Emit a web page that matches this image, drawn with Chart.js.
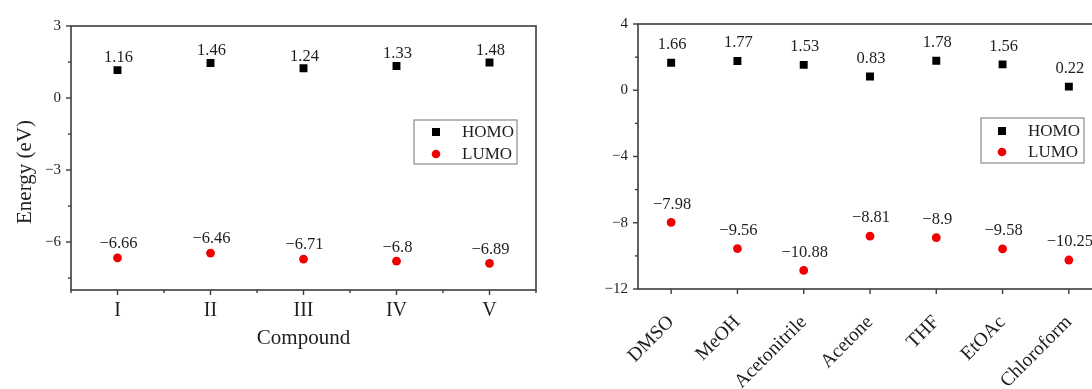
<!DOCTYPE html>
<html>
<head>
<meta charset="utf-8">
<script src="https://cdn.jsdelivr.net/npm/chart.js@4.4.1/dist/chart.umd.min.js"></script>
<style>
  html, body { margin: 0; padding: 0; background: #ffffff; }
  #wrap { position: relative; width: 1092px; height: 389px; overflow: hidden; background: #ffffff; }
  canvas { position: absolute; top: 0; }
  #c1 { left: 0px; }
  #c2 { left: 560px; }
</style>
</head>
<body>
<div id="wrap">
  <canvas id="c1" width="560" height="389"></canvas>
  <canvas id="c2" width="560" height="389"></canvas>
</div>
<script>
// ---------- DATA ----------
const leftCategories = ['I', 'II', 'III', 'IV', 'V'];
const leftHomo = [1.16, 1.46, 1.24, 1.33, 1.48];
const leftLumo = [-6.66, -6.46, -6.71, -6.8, -6.89];
const leftYTicks = [-6, -3, 0, 3];
const leftYMinor = [-7.5, -4.5, -1.5, 1.5];

const rightCategories = ['DMSO', 'MeOH', 'Acetonitrile', 'Acetone', 'THF', 'EtOAc', 'Chloroform'];
const rightHomo = [1.66, 1.77, 1.53, 0.83, 1.78, 1.56, 0.22];
const rightLumo = [-7.98, -9.56, -10.88, -8.81, -8.9, -9.58, -10.25];
const rightYTicks = [-12, -8, -4, 0, 4];
const rightYMinor = [-10, -6, -2, 2];

const seriesNames = ['HOMO', 'LUMO'];
const yTitle = 'Energy (eV)';
const xTitle = 'Compound';

// ---------- STYLE ----------
const FONT = "'Liberation Serif', 'Times New Roman', serif";
const TXT = '#1e1e1e';
const AXIS = '#3c3c3c';
Chart.defaults.font.family = FONT;
Chart.defaults.color = TXT;

const fmt = v => String(v).replace('-', '\u2212');

const framePlugin = {
  id: 'frame',
  afterDraw(chart, args, o) {
    const { ctx, chartArea: a, scales: { x, y } } = chart;
    ctx.save();
    ctx.strokeStyle = AXIS;
    ctx.lineWidth = 1.6;
    ctx.strokeRect(a.left, a.top, a.right - a.left, a.bottom - a.top);
    ctx.lineWidth = 1.4;
    const seg = (x1, y1, x2, y2) => { ctx.beginPath(); ctx.moveTo(x1, y1); ctx.lineTo(x2, y2); ctx.stroke(); };
    o.yMajor.forEach(v => { const p = y.getPixelForValue(v); seg(a.left - 5, p, a.left, p); });
    o.yMinor.forEach(v => { const p = y.getPixelForValue(v); seg(a.left - 3, p, a.left, p); });
    x.ticks.forEach((t, i) => { const p = x.getPixelForTick(i); seg(p, a.bottom, p, a.bottom + 5); });
    if (o.xMinor) {
      for (let i = 0; i <= x.ticks.length; i++) {
        const p = x.getPixelForValue(i - 0.5);
        seg(p, a.bottom, p, a.bottom + 3);
      }
    }
    if (o.yTitle) {
      ctx.fillStyle = TXT;
      ctx.font = o.yTitle.size + 'px ' + FONT;
      ctx.textAlign = 'center';
      ctx.textBaseline = 'middle';
      ctx.translate(o.yTitle.x, o.yTitle.y);
      ctx.rotate(-Math.PI / 2);
      ctx.fillText(o.yTitle.text, 0, 0);
    }
    ctx.restore();
  }
};

const labelPlugin = {
  id: 'vlabels',
  afterDatasetsDraw(chart, args, o) {
    const { ctx } = chart;
    ctx.save();
    ctx.fillStyle = TXT;
    ctx.font = o.size + 'px ' + FONT;
    ctx.textAlign = 'center';
    ctx.textBaseline = 'middle';
    chart.data.datasets.forEach((ds, di) => {
      const meta = chart.getDatasetMeta(di);
      meta.data.forEach((el, i) => {
        ctx.fillText(fmt(ds.data[i]), el.x + 1, el.y - o.offset[di]);
      });
    });
    ctx.restore();
  }
};

const boxLegendPlugin = {
  id: 'boxLegend',
  afterDraw(chart, args, o) {
    const { ctx } = chart;
    ctx.save();
    ctx.strokeStyle = '#8a8a8a';
    ctx.lineWidth = 1.2;
    ctx.strokeRect(o.x, o.y, o.w, o.h);
    ctx.font = o.size + 'px ' + FONT;
    ctx.textAlign = 'left';
    ctx.textBaseline = 'middle';
    chart.data.datasets.forEach((ds, i) => {
      const cy = o.y + o.rowStart + i * o.rowGap;
      ctx.fillStyle = ds.backgroundColor;
      if (ds.pointStyle === 'rect') {
        ctx.fillRect(o.x + o.markX - 4, cy - 4, 8, 8);
      } else {
        ctx.beginPath(); ctx.arc(o.x + o.markX, cy, 4.3, 0, Math.PI * 2); ctx.fill();
      }
      ctx.fillStyle = TXT;
      ctx.fillText(ds.label, o.x + o.textX, cy + 1);
    });
    ctx.restore();
  }
};

function makeDatasets(homo, lumo) {
  return [
    { label: seriesNames[0], data: homo, showLine: false, pointStyle: 'rect', pointRadius: 5.6,
      backgroundColor: '#000000', borderColor: '#000000', pointBorderWidth: 0 },
    { label: seriesNames[1], data: lumo, showLine: false, pointStyle: 'circle', pointRadius: 4.4,
      backgroundColor: '#f00000', borderColor: '#f00000', pointBorderWidth: 0 }
  ];
}

function makeChart(id, cfg) {
  return new Chart(document.getElementById(id), {
    type: 'line',
    data: { labels: cfg.categories, datasets: makeDatasets(cfg.homo, cfg.lumo) },
    options: {
      responsive: false,
      animation: false,
      devicePixelRatio: 1,
      events: [],
      layout: { padding: cfg.padding },
      plugins: {
        legend: { display: false },
        tooltip: { enabled: false },
        frame: cfg.frame,
        vlabels: { size: 16.5, offset: cfg.labelOffset },
        boxLegend: cfg.legend
      },
      scales: {
        x: {
          type: 'category',
          offset: true,
          grid: { display: false, drawTicks: false },
          border: { display: false },
          ticks: { font: { size: cfg.xFont }, padding: cfg.xPad, color: TXT,
                   minRotation: cfg.rot, maxRotation: cfg.rot, autoSkip: false },
          title: cfg.xTitle ? { display: true, text: cfg.xTitle, font: { size: 21 }, color: TXT,
                   padding: { top: 0, bottom: 0 } } : { display: false },
          afterFit: s => { s.height = cfg.xHeight; }
        },
        y: {
          type: 'linear',
          min: cfg.yMin, max: cfg.yMax,
          grid: { display: false, drawTicks: false },
          border: { display: false },
          ticks: { font: { size: 15 }, padding: 10, color: TXT, callback: v => fmt(v) },
          afterBuildTicks: s => { s.ticks = cfg.yTicks.map(v => ({ value: v })); },
          afterFit: s => { s.width = cfg.yWidth; }
        }
      }
    },
    plugins: [framePlugin, labelPlugin, boxLegendPlugin]
  });
}

makeChart('c1', {
  categories: leftCategories, homo: leftHomo, lumo: leftLumo,
  yMin: -8, yMax: 3, yTicks: leftYTicks,
  padding: { top: 26, right: 24, bottom: 38, left: 0 },
  yWidth: 71, xHeight: 61, xFont: 20, xPad: 9, rot: 0, xTitle: xTitle,
  labelOffset: [12, 14],
  frame: { yMajor: leftYTicks, yMinor: leftYMinor, xMinor: true,
           yTitle: { text: yTitle, x: 25, y: 172, size: 21 } },
  legend: { x: 414, y: 120, w: 103, h: 44, size: 17, markX: 22, textX: 48, rowStart: 12, rowGap: 22 }
});

makeChart('c2', {
  categories: rightCategories, homo: rightHomo, lumo: rightLumo,
  yMin: -12, yMax: 4, yTicks: rightYTicks,
  padding: { top: 24, right: 18, bottom: 0, left: 0 },
  yWidth: 78, xHeight: 100, xFont: 19.5, xPad: 22, rot: 45, xTitle: null,
  labelOffset: [18, 18],
  frame: { yMajor: rightYTicks, yMinor: rightYMinor, xMinor: false, yTitle: null },
  legend: { x: 421, y: 118, w: 103, h: 45, size: 17, markX: 21, textX: 47, rowStart: 13, rowGap: 21 }
});
</script>
</body>
</html>
